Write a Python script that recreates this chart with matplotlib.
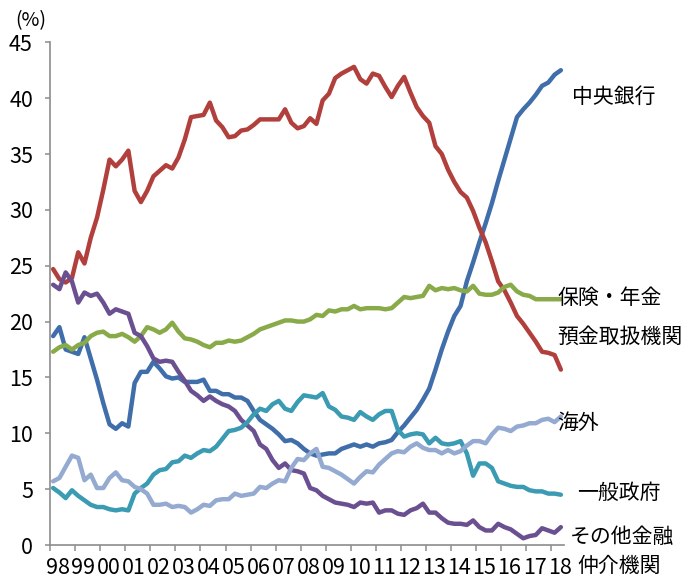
import matplotlib
matplotlib.use("Agg")
import matplotlib.pyplot as plt
import numpy as np

plt.rcParams['font.family'] = ['Noto Sans CJK JP', 'DejaVu Sans']

# quarterly shares of JGB holdings (%), 1998Q1 - 2018Q2
year_labels = ['98', '99', '00', '01', '02', '03', '04', '05', '06', '07', '08',
               '09', '10', '11', '12', '13', '14', '15', '16', '17', '18']

central_bank = [18.7, 19.5, 17.5, 17.3, 17.1, 18.6, 16.7, 14.8, 12.7, 10.8, 10.4,
                10.9, 10.6, 14.5, 15.5, 15.5, 16.4, 15.8, 15.1, 14.9, 15.0,
                14.6, 14.6, 14.6, 14.8, 13.8, 13.8, 13.5, 13.5, 13.2, 13.2,
                12.9, 12.0, 11.2, 10.8, 10.4, 9.9, 9.3, 9.4, 9.1, 8.6,
                8.2, 8.0, 8.1, 8.2, 8.2, 8.6, 8.8, 9.0, 8.8, 9.0,
                8.8, 9.1, 9.2, 9.4, 10.1, 10.7, 11.4, 12.1, 13.0, 14.0,
                15.7, 17.5, 19.1, 20.5, 21.4, 23.6, 25.3, 27.1, 28.8, 30.6,
                32.6, 34.5, 36.4, 38.3, 39.0, 39.6, 40.3, 41.1, 41.4, 42.1, 42.5]

deposit = [24.7, 23.8, 23.5, 23.9, 26.2, 25.2, 27.5, 29.3, 31.8, 34.5, 33.9,
           34.5, 35.3, 31.7, 30.7, 31.7, 33.0, 33.5, 34.0, 33.7, 34.7,
           36.3, 38.3, 38.4, 38.5, 39.6, 38.0, 37.4, 36.5, 36.6, 37.1,
           37.2, 37.6, 38.1, 38.1, 38.1, 38.1, 39.0, 37.8, 37.3, 37.5,
           38.2, 37.7, 39.8, 40.4, 41.8, 42.2, 42.5, 42.8, 41.7, 41.3,
           42.2, 42.0, 41.0, 40.1, 41.1, 41.9, 40.5, 39.2, 38.4, 37.8,
           35.7, 35.0, 33.6, 32.5, 31.6, 31.1, 29.9, 28.4, 27.1, 25.4,
           23.6, 22.8, 21.7, 20.5, 19.8, 19.0, 18.2, 17.3, 17.2, 17.0, 15.7]

insurance = [17.3, 17.7, 17.9, 17.5, 17.9, 18.1, 18.7, 19.0, 19.1, 18.7, 18.7,
             18.9, 18.6, 18.2, 18.7, 19.5, 19.3, 19.0, 19.3, 19.9, 19.1,
             18.5, 18.4, 18.2, 17.9, 17.7, 18.1, 18.1, 18.3, 18.2, 18.3,
             18.6, 18.9, 19.3, 19.5, 19.7, 19.9, 20.1, 20.1, 20.0, 20.0,
             20.2, 20.6, 20.5, 21.0, 20.9, 21.1, 21.1, 21.4, 21.1, 21.2,
             21.2, 21.2, 21.1, 21.2, 21.7, 22.2, 22.1, 22.2, 22.3, 23.2,
             22.8, 23.0, 22.9, 23.0, 22.8, 22.7, 23.2, 22.5, 22.4, 22.4,
             22.6, 23.1, 23.3, 22.7, 22.4, 22.3, 22.0, 22.0, 22.0, 22.0, 22.0]

other_fin = [23.3, 22.9, 24.4, 23.6, 21.7, 22.6, 22.3, 22.5, 21.7, 20.7, 21.1,
             20.9, 20.7, 19.0, 18.7, 17.8, 16.7, 16.4, 16.5, 16.4, 15.5,
             14.7, 13.8, 13.4, 12.9, 13.3, 12.9, 12.6, 12.4, 12.0, 11.2,
             10.7, 10.2, 9.0, 8.6, 7.6, 6.9, 7.3, 6.7, 6.6, 6.4,
             5.1, 4.9, 4.4, 4.1, 3.8, 3.7, 3.6, 3.4, 3.8, 3.7,
             3.8, 2.9, 3.1, 3.1, 2.8, 2.7, 3.1, 3.3, 3.7, 2.9,
             2.9, 2.4, 2.0, 1.9, 1.9, 1.8, 2.2, 1.6, 1.3, 1.3,
             1.9, 1.6, 1.4, 1.0, 0.6, 0.8, 0.9, 1.5, 1.3, 1.1, 1.6]

government = [5.1, 4.7, 4.2, 4.9, 4.4, 4.0, 3.6, 3.4, 3.4, 3.2, 3.1,
              3.2, 3.1, 4.6, 5.1, 5.5, 6.3, 6.7, 6.8, 7.4, 7.5,
              8.0, 7.8, 8.2, 8.5, 8.4, 8.8, 9.5, 10.2, 10.3, 10.5,
              11.0, 11.7, 12.2, 12.0, 12.6, 12.9, 12.2, 12.0, 12.8, 13.4,
              13.3, 13.2, 13.6, 12.4, 12.1, 11.5, 11.4, 11.2, 11.9, 11.5,
              11.2, 11.7, 12.0, 12.0, 10.3, 9.7, 9.9, 10.0, 9.9, 9.1,
              9.6, 9.1, 9.0, 9.1, 9.3, 8.2, 6.2, 7.3, 7.3, 6.9,
              5.7, 5.5, 5.3, 5.2, 5.2, 4.9, 4.8, 4.8, 4.6, 4.6, 4.5]

overseas = [5.7, 6.0, 7.0, 8.0, 7.8, 5.8, 6.3, 5.1, 5.1, 6.0, 6.5,
            5.8, 5.7, 5.2, 5.0, 4.6, 3.6, 3.6, 3.7, 3.4, 3.5,
            3.4, 2.9, 3.2, 3.6, 3.5, 4.0, 4.1, 4.1, 4.6, 4.4,
            4.5, 4.6, 5.2, 5.1, 5.5, 5.8, 5.7, 6.9, 7.7, 7.6,
            8.2, 8.6, 7.0, 6.9, 6.6, 6.3, 5.9, 5.5, 6.1, 6.6,
            6.5, 7.2, 7.7, 8.2, 8.4, 8.3, 8.8, 9.1, 8.7, 8.5,
            8.5, 8.2, 8.5, 8.2, 8.4, 8.9, 9.3, 9.3, 9.1, 9.9,
            10.5, 10.4, 10.2, 10.6, 10.7, 10.9, 10.9, 11.2, 11.3, 11.0, 11.5]

series = [
    (central_bank, '#3f6eaa'),
    (deposit, '#b1403d'),
    (insurance, '#89aa49'),
    (other_fin, '#6b5091'),
    (government, '#3a9bb3'),
    (overseas, '#94aad1'),
]

W, H = 681, 578
fig = plt.figure(figsize=(W / 100, H / 100), dpi=100)
ax = fig.add_axes([50 / W, 1 - 545 / H, 514 / W, 502.7 / H])

n = len(central_bank)
x = np.arange(n) + 0.5
for values, color in series:
    ax.plot(x, values, color=color, lw=3.2, solid_joinstyle='round',
            solid_capstyle='round', clip_on=False)

ax.set_xlim(0, n)
ax.set_ylim(0, 45)

# axes: left and bottom only, grey
for side in ['top', 'right']:
    ax.spines[side].set_visible(False)
for side in ['left', 'bottom']:
    ax.spines[side].set_color('#8c8c8c')
    ax.spines[side].set_linewidth(1.2)

ax.set_yticks(np.arange(0, 46, 5))
ax.tick_params(axis='y', direction='out', length=3.3, width=1.1, color='#8c8c8c',
               pad=9, labelsize=15.5)

# year ticks every 4 quarters, labels a little to the right of each tick
ax.set_xticks(np.arange(0, 81, 4))
ax.set_xticklabels([])
ax.set_xticks(np.arange(0, 81, 4) + 1.3, minor=True)
ax.set_xticklabels(year_labels, minor=True)
ax.tick_params(axis='x', which='major', direction='out', length=4.2, width=1.1,
               color='#8c8c8c')
ax.tick_params(axis='x', which='minor', length=0, pad=9, labelsize=15.5)

fig.text(31 / W, 1 - 21 / H, '(%)', fontsize=14, ha='center', va='center')

# series names at the right end of the lines
names = [
    ('中央銀行', 572, 97),
    ('保険・年金', 557, 298),
    ('預金取扱機関', 557, 337),
    ('海外', 557, 423),
    ('一般政府', 577, 493),
    ('その他金融', 570, 537),
    ('仲介機関', 577, 566),
]
for label, px, py in names:
    fig.text(px / W, 1 - py / H, label, fontsize=15, ha='left', va='center')

fig.savefig('out.png', dpi=100)
